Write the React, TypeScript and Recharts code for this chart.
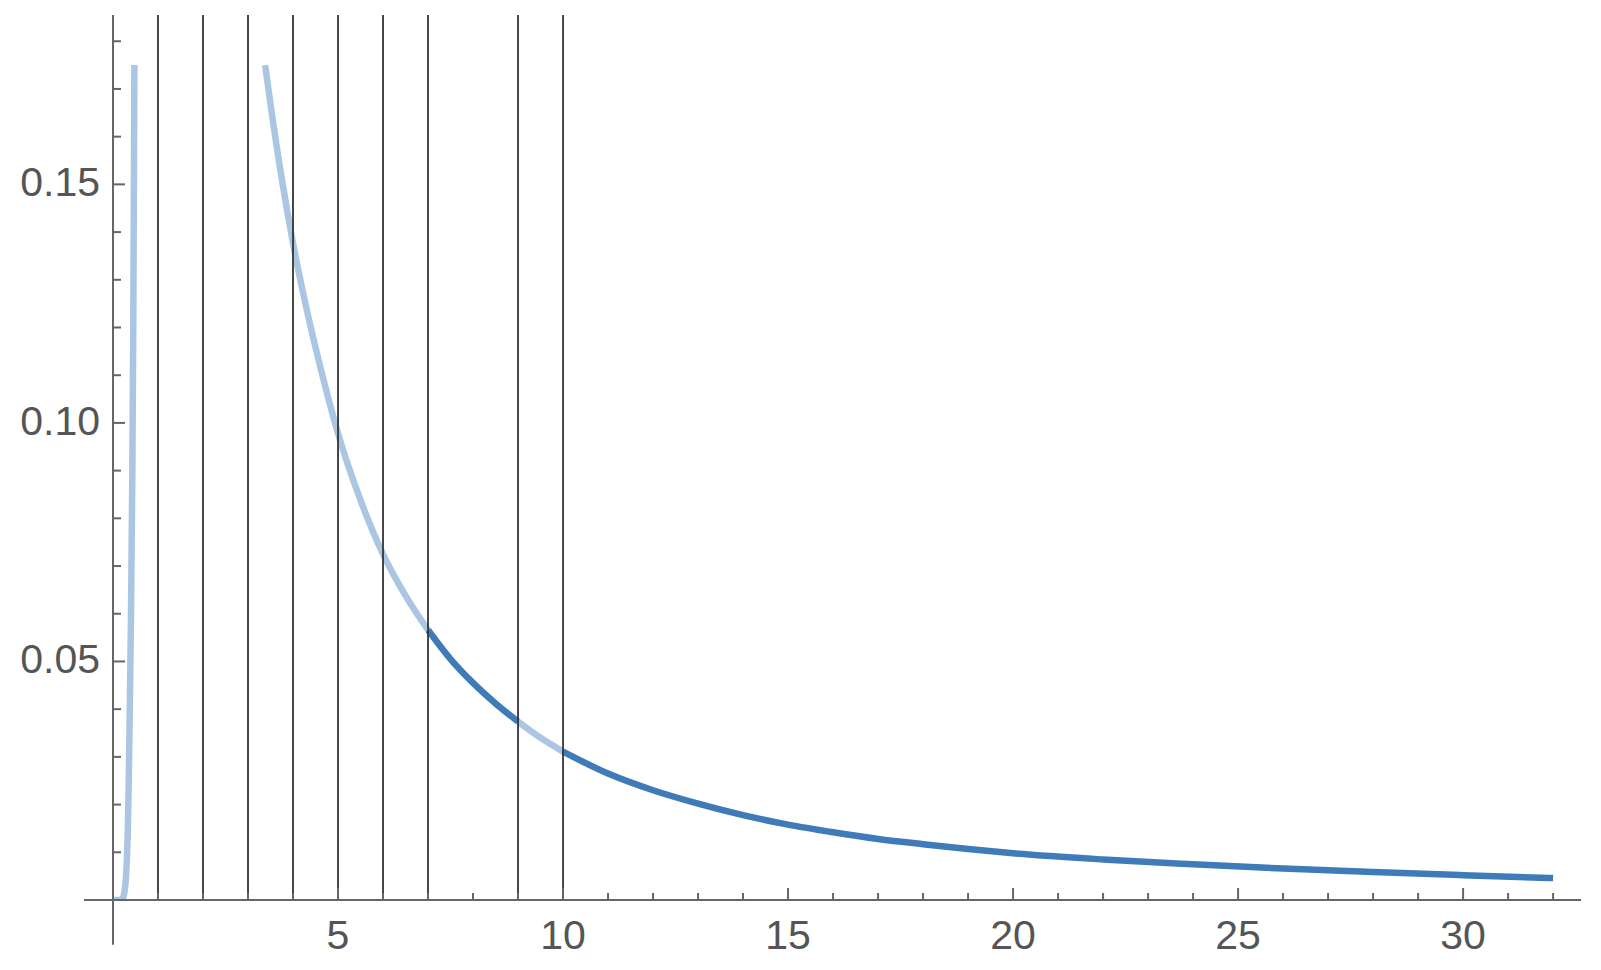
import { Line, LineChart, ReferenceLine, XAxis, YAxis } from "recharts";

// left branch (rises almost vertically just right of 0)
const leftX = [0, 0.15, 0.22, 0.26, 0.29, 0.31, 0.33, 0.35, 0.37, 0.4, 0.43, 0.45, 0.465, 0.475];
const leftY = [0, 0, 0.0005, 0.002, 0.005, 0.009, 0.015, 0.025, 0.038, 0.06, 0.09, 0.12, 0.15, 0.175];

// right branch (decaying tail)
const rightX = [
  3.38, 3.5, 3.75, 4, 4.25, 4.5, 4.75, 5, 5.5, 6, 6.5, 7, 7.5, 8, 8.5, 9, 9.5, 10, 11, 12, 13, 14, 15,
  16, 17, 18, 19, 20, 22, 24, 26, 28, 30, 32,
];
const rightY = [
  0.175, 0.1668, 0.1512, 0.1377, 0.1261, 0.1158, 0.1064, 0.0978, 0.0838, 0.0725, 0.0638, 0.0566, 0.0505,
  0.0455, 0.0412, 0.0374, 0.034, 0.0311, 0.0265, 0.023, 0.0202, 0.0178, 0.0158, 0.0142, 0.0128, 0.0117,
  0.0107, 0.0098, 0.0085, 0.0075, 0.0066, 0.00585, 0.0052, 0.0046,
];

// x ranges of the right branch, alternately highlighted
const segmentStarts = [3.38, 7, 9, 10];
const segmentEnds = [7, 9, 10, 32];
const segmentDark = [false, true, false, true];

const markerLines = [1, 2, 3, 4, 5, 6, 7, 9, 10];

const xTicks = [
  1, 2, 3, 4, 5, 6, 7, 8, 9, 10, 11, 12, 13, 14, 15, 16, 17, 18, 19, 20, 21, 22, 23, 24, 25, 26, 27, 28,
  29, 30, 31, 32,
];
const yTicks = [
  0.01, 0.02, 0.03, 0.04, 0.05, 0.06, 0.07, 0.08, 0.09, 0.1, 0.11, 0.12, 0.13, 0.14, 0.15, 0.16, 0.17,
  0.18,
];

const X_MAX = 32.62;
const X_LEFT = -0.644;
const Y_MAX = 0.1855;
const Y_BOTTOM = -0.0094;

const LIGHT = "#abc6e2";
const DARK = "#3f7bb8";
const AXIS = "#666";
const FONT = "'Liberation Sans', Arial, sans-serif";

const toPoints = (xs: number[], ys: number[]) => xs.map((x, i) => ({ x, y: ys[i] }));
const leftData = toPoints(leftX, leftY);
const rightData = toPoints(rightX, rightY);

function XTick(props: any) {
  const { x, y, payload } = props;
  const v = payload.value as number;
  const major = v % 5 === 0;
  return (
    <g>
      <line x1={x} x2={x} y1={y} y2={y - (major ? 12 : 7)} stroke={AXIS} strokeWidth={2} />
      {major && (
        <text
          x={x}
          y={y + 35}
          textAnchor="middle"
          dominantBaseline="central"
          fontFamily={FONT}
          fontSize={41}
          fill="#555"
        >
          {v}
        </text>
      )}
    </g>
  );
}

function YTick(props: any) {
  const { x, y, payload } = props;
  const v = payload.value as number;
  const major = Math.round(v * 100) % 5 === 0;
  return (
    <g>
      <line x1={x} x2={x + (major ? 12 : 8)} y1={y} y2={y} stroke={AXIS} strokeWidth={2} />
      {major && (
        <text
          x={x - 13}
          y={y - 2}
          textAnchor="end"
          dominantBaseline="central"
          fontFamily={FONT}
          fontSize={41}
          fill="#555"
        >
          {v.toFixed(2)}
        </text>
      )}
    </g>
  );
}

export default function App() {
  return (
    <div style={{ width: 1601, height: 970, background: "#fff" }}>
      <style>{"body{margin:0}"}</style>
      <LineChart width={1601} height={970} margin={{ top: 15, right: 20, bottom: 30, left: 53 }}>
        <XAxis
          type="number"
          dataKey="x"
          domain={[0, X_MAX]}
          allowDataOverflow
          ticks={xTicks}
          interval={0}
          tickSize={0}
          tickMargin={0}
          tickLine={false}
          axisLine={false}
          height={40}
          tick={<XTick />}
        />
        <YAxis
          type="number"
          dataKey="y"
          domain={[0, Y_MAX]}
          allowDataOverflow
          ticks={yTicks}
          interval={0}
          tickSize={0}
          tickMargin={0}
          tickLine={false}
          axisLine={false}
          width={60}
          tick={<YTick />}
        />
        <Line
          data={leftData}
          dataKey="y"
          type="monotone"
          stroke={LIGHT}
          strokeWidth={6.5}
          dot={false}
          activeDot={false}
          isAnimationActive={false}
        />
        {segmentStarts.map((from, i) => (
          <Line
            key={`seg-${i}`}
            data={rightData.filter((p) => p.x >= from && p.x <= segmentEnds[i])}
            dataKey="y"
            type="monotone"
            stroke={segmentDark[i] ? DARK : LIGHT}
            strokeWidth={6.5}
            dot={false}
            activeDot={false}
            isAnimationActive={false}
          />
        ))}
        {markerLines.map((m) => (
          <ReferenceLine key={`m-${m}`} x={m} stroke="#333" strokeWidth={1.8} />
        ))}
        <ReferenceLine
          segment={[
            { x: X_LEFT, y: 0 },
            { x: X_MAX, y: 0 },
          ]}
          ifOverflow="visible"
          stroke={AXIS}
          strokeWidth={2}
        />
        <ReferenceLine
          segment={[
            { x: 0, y: Y_BOTTOM },
            { x: 0, y: Y_MAX },
          ]}
          ifOverflow="visible"
          stroke={AXIS}
          strokeWidth={2}
        />
      </LineChart>
    </div>
  );
}
